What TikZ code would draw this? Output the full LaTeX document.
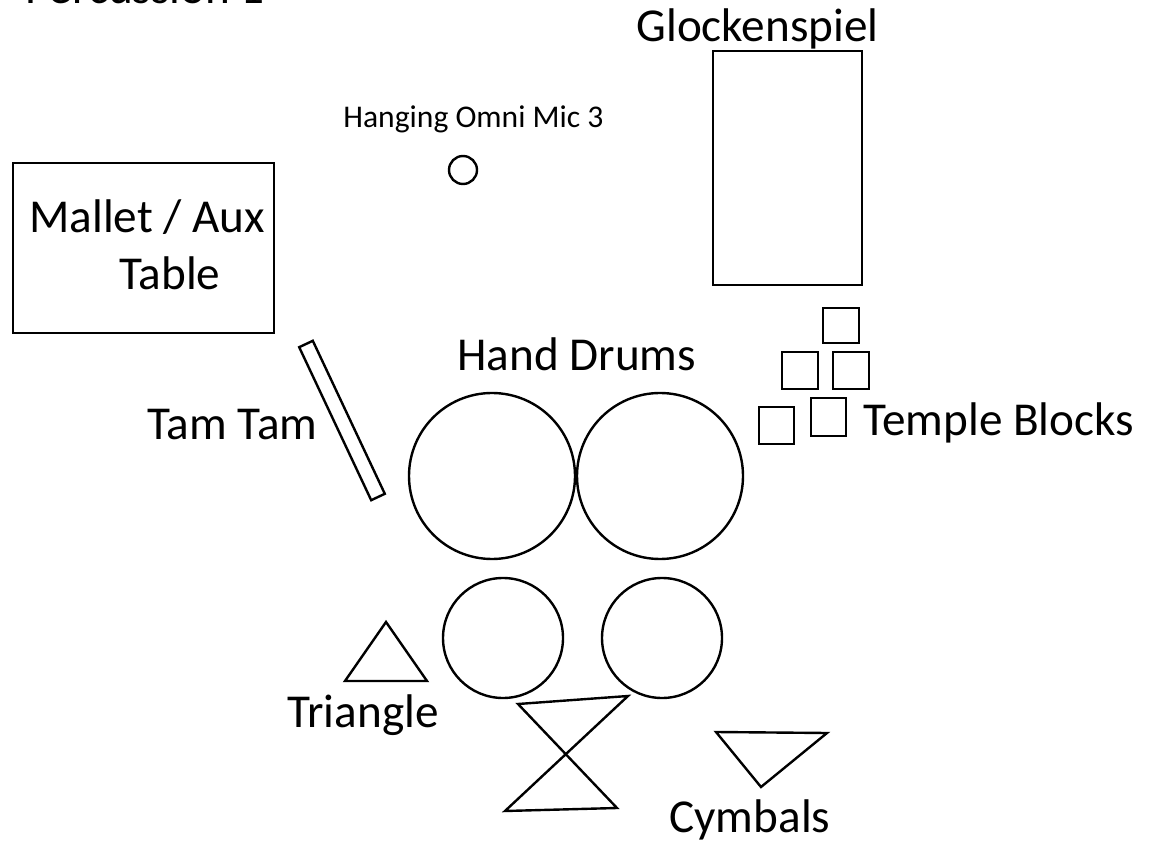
\documentclass[tikz,border=0pt]{standalone}
\usepackage{fontspec}
\setmainfont{Carlito}
\begin{document}
\begin{tikzpicture}[x=0.5pt,y=-0.5pt,
  outline/.style={draw=black,line width=1.2pt,line join=miter},
  biglabel/.style={anchor=base west,inner sep=0pt,font=\fontsize{23.6pt}{28pt}\selectfont},
  smalllabel/.style={anchor=base west,inner sep=0pt,font=\fontsize{15.8pt}{19pt}\selectfont}]
\useasboundingbox (0,0) rectangle (1150,849);

% title, partly above the page edge
\node[biglabel] (title) at (25,4) {Percussion 1};

% mallet / aux table
\draw[outline] (13,163) rectangle (274,333);
\node[biglabel] (table1) at (29,233) {Mallet / Aux};
\node[biglabel] (table2) at (119,290) {Table};

% hanging mic
\node[smalllabel] (miclabel) at (343,128) {Hanging Omni Mic 3};
\draw[outline] (463,170) circle[radius=7pt];

% glockenspiel
\node[biglabel] (glock) at (636,42) {Glockenspiel};
\draw[outline] (713,51) rectangle (862,285);

% tam tam (tilted bar)
\draw[outline] (312.8,340.8) -- (299.2,347.2) -- (371.2,500.2) -- (384.8,493.8) -- cycle;
\node[biglabel] (tamtam) at (147,440) {Tam Tam};

% hand drums
\node[biglabel] (hd) at (457,371) {Hand Drums};
\draw[outline] (492,476) circle[radius=41.5pt];
\draw[outline] (660,476) circle[radius=41.5pt];
\draw[outline] (503,638) circle[radius=30pt];
\draw[outline] (662,638) circle[radius=30pt];

% temple blocks
\draw[outline] (823,308) rectangle (859,343);
\draw[outline] (782,352) rectangle (818,389);
\draw[outline] (833,352) rectangle (869,389);
\draw[outline] (759,407) rectangle (794,444);
\draw[outline] (811,398) rectangle (846,436);
\node[biglabel] (tb) at (863,436) {Temple Blocks};

% triangle
\draw[outline] (386,622) -- (345,681) -- (427,681) -- cycle;
\node[biglabel] (tri) at (287,727) {Triangle};

% cymbals
\draw[outline] (518,704) -- (628,696) -- (505,811) -- (617,808) -- cycle;
\draw[outline] (716,732) -- (827,733) -- (761,787) -- cycle;
\node[biglabel] (cym) at (669,832) {Cymbals};
\end{tikzpicture}
\end{document}
